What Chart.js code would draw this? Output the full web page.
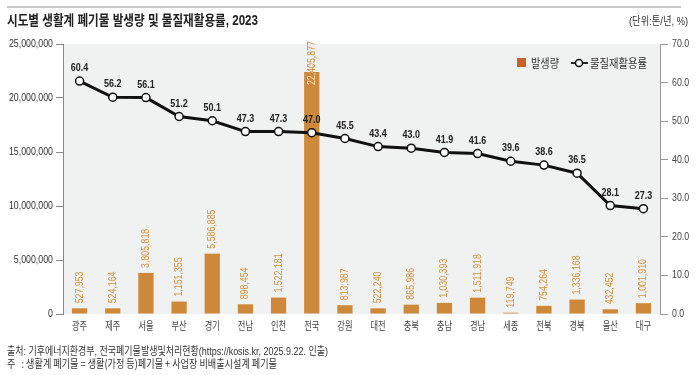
<!DOCTYPE html>
<html><head><meta charset="utf-8">
<script src="https://cdn.jsdelivr.net/npm/chart.js@4"></script>
<style>html,body{margin:0;padding:0;background:#fff}#wrap{width:700px;height:375px}</style>
</head><body><div id="wrap"><canvas id="c" width="700" height="375"></canvas></div>
<script>
const categories=['광주','제주','서울','부산','경기','전남','인천','전국','강원','대전','충북','충남','경남','세종','전북','경북','울산','대구'];
const generation=[527953,524164,3805818,1151355,5586885,898454,1522181,22405877,813987,522240,865986,1030393,1511918,119749,754264,1336168,432452,1001910];
const recyclingRate=[60.4,56.2,56.1,51.2,50.1,47.3,47.3,47.0,45.5,43.4,43.0,41.9,41.6,39.6,38.6,36.5,28.1,27.3];
const leftAxisMax=25000000, leftAxisStep=5000000;
const rightAxisMax=70, rightAxisStep=10;
const titleText='시도별 생활계 폐기물 발생량 및 물질재활용률, 2023';
const unitText='(단위:톤/년, %)';
const sourceText='출처: 기후에너지환경부, 전국폐기물발생및처리현황(https://kosis.kr, 2025.9.22. 인출)';
const noteText='주   : 생활계 폐기물 = 생활(가정 등)폐기물 + 사업장 비배출시설계 폐기물';
const seriesNames=['발생량','물질재활용률'];

const KR='"Liberation Sans", "Noto Sans CJK KR", sans-serif';
const NUM='"Liberation Sans", Arial, sans-serif';
const BAR_COLOR='#cd883a', BAR_LABEL='#d4913f';

function fitText(ctx,text,x,y,scaleX,align){
  const w=ctx.measureText(text).width*scaleX;
  let sx=x; if(align==='right') sx=x-w; else if(align==='center') sx=x-w/2;
  ctx.save(); ctx.translate(sx,y); ctx.scale(scaleX,1); ctx.textAlign='left'; ctx.fillText(text,0,0); ctx.restore();
}

const decor={
  id:'decor',
  beforeDraw(chart){
    const {ctx,chartArea:a}=chart;
    ctx.save(); ctx.fillStyle='#f0f1f1'; ctx.fillRect(a.left,a.top,a.right-a.left,a.bottom-a.top); ctx.restore();
  },
  afterDatasetsDraw(chart){
    const ctx=chart.ctx;
    const bm=chart.getDatasetMeta(1);
    const sc=0.8;
    ctx.save(); ctx.font='11px '+NUM; ctx.textBaseline='middle';
    bm.data.forEach((el,i)=>{
      const t=generation[i].toLocaleString('en-US');
      const w=ctx.measureText(t).width*sc;
      let start=el.y-5; if(start-w<41) start=41+w;
      const draw=(col)=>{ctx.fillStyle=col; ctx.save(); ctx.translate(el.x,start); ctx.rotate(-Math.PI/2); ctx.scale(sc,1); ctx.textAlign='left'; ctx.fillText(t,0,0); ctx.restore();};
      draw(BAR_LABEL);
      if(start>el.y){
        ctx.save(); ctx.beginPath(); ctx.rect(el.x-el.width/2,el.y,el.width,el.base-el.y); ctx.clip();
        draw('#f2dcc0'); ctx.restore();
      }
    });
    ctx.restore();
  },
  afterDraw(chart){
    const ctx=chart.ctx;
    const lm=chart.getDatasetMeta(0);
    ctx.save(); ctx.font='bold 11.5px '+NUM; ctx.fillStyle='#222'; ctx.textBaseline='middle';
    lm.data.forEach((el,i)=>fitText(ctx,recyclingRate[i].toFixed(1),el.x,el.y-13,0.78,'center'));
    ctx.restore();
    const yl=chart.scales.y, yr=chart.scales.y1, xs=chart.scales.x;
    ctx.save(); ctx.font='11px '+NUM; ctx.textBaseline='middle';
    ctx.fillStyle='#333';
    yl.ticks.forEach(t=>fitText(ctx,t.value.toLocaleString('en-US'),53,yl.getPixelForValue(t.value),0.8,'right'));
    ctx.fillStyle='#444';
    yr.ticks.forEach(t=>fitText(ctx,t.value.toFixed(1),672,yr.getPixelForValue(t.value),0.8,'left'));
    ctx.restore();
    ctx.save(); ctx.font='11px "Noto Sans CJK KR", sans-serif'; ctx.fillStyle='#444'; ctx.textBaseline='middle';
    categories.forEach((c,i)=>fitText(ctx,c,xs.getPixelForValue(i),326,0.75,'center'));
    ctx.restore();
    ctx.save(); ctx.fillStyle='#c9c9c9'; ctx.fillRect(7,6,674,2); ctx.restore();
    ctx.save(); ctx.fillStyle='#222'; ctx.textBaseline='middle'; ctx.font='bold 14px '+KR;
    const tw=ctx.measureText(titleText).width; fitText(ctx,titleText,7,21,251/tw,'left');
    ctx.font='11px '+KR; ctx.fillStyle='#333';
    const uw=ctx.measureText(unitText).width; fitText(ctx,unitText,688,22,59/uw,'right');
    ctx.font='11px '+KR; ctx.fillStyle='#333';
    const sw=ctx.measureText(sourceText).width;
    fitText(ctx,sourceText,7,352,321/sw,'left');
    ctx.font='11px "Noto Sans CJK KR", sans-serif';
    const nw=ctx.measureText(noteText).width;
    fitText(ctx,noteText,7,364,270/nw,'left');
    ctx.restore();
    ctx.save();
    ctx.fillStyle='#c4622a'; ctx.fillRect(517,58,9,9);
    ctx.font='12px "Noto Sans CJK KR", sans-serif'; ctx.fillStyle='#333'; ctx.textBaseline='middle';
    const l1=ctx.measureText(seriesNames[0]).width; fitText(ctx,seriesNames[0],531,63,28/l1,'left');
    ctx.strokeStyle='#111'; ctx.lineWidth=1.8; ctx.beginPath(); ctx.moveTo(571,63); ctx.lineTo(588,63); ctx.stroke();
    ctx.beginPath(); ctx.arc(579,63,3.5,0,Math.PI*2); ctx.fillStyle='#fff'; ctx.fill(); ctx.lineWidth=1.5; ctx.stroke();
    ctx.fillStyle='#333'; const l2=ctx.measureText(seriesNames[1]).width; fitText(ctx,seriesNames[1],590,63,57/l2,'left');
    ctx.restore();
  }
};

new Chart(document.getElementById('c'),{
  data:{labels:categories,datasets:[
    {type:'line',label:seriesNames[1],data:recyclingRate,yAxisID:'y1',order:0,borderColor:'#111',borderWidth:3,
     pointRadius:4,pointBackgroundColor:'#fff',pointBorderColor:'#111',pointBorderWidth:1.5,tension:0},
    {type:'bar',label:seriesNames[0],data:generation,yAxisID:'y',order:1,backgroundColor:BAR_COLOR,
     barPercentage:0.46,categoryPercentage:1}
  ]},
  options:{responsive:false,animation:false,devicePixelRatio:1,
    layout:{padding:{top:44,left:0,right:0,bottom:0}},
    plugins:{legend:{display:false},tooltip:{enabled:false},title:{display:false}},
    scales:{
      x:{offset:true,grid:{display:false},border:{display:false},ticks:{display:false},
         afterFit(s){s.height=61;}},
      y:{position:'left',min:0,max:leftAxisMax,
         ticks:{display:false,stepSize:leftAxisStep},
         grid:{drawOnChartArea:false,drawTicks:true,tickLength:7,color:'#888'},border:{color:'#888'},
         afterFit(s){s.width=63;}},
      y1:{position:'right',min:0,max:rightAxisMax,
         ticks:{display:false,stepSize:rightAxisStep},
         grid:{drawOnChartArea:false,drawTicks:true,tickLength:8,color:'#999'},border:{color:'#999'},
         afterFit(s){s.width=40;}}
    }
  },
  plugins:[decor]
});
</script></body></html>
